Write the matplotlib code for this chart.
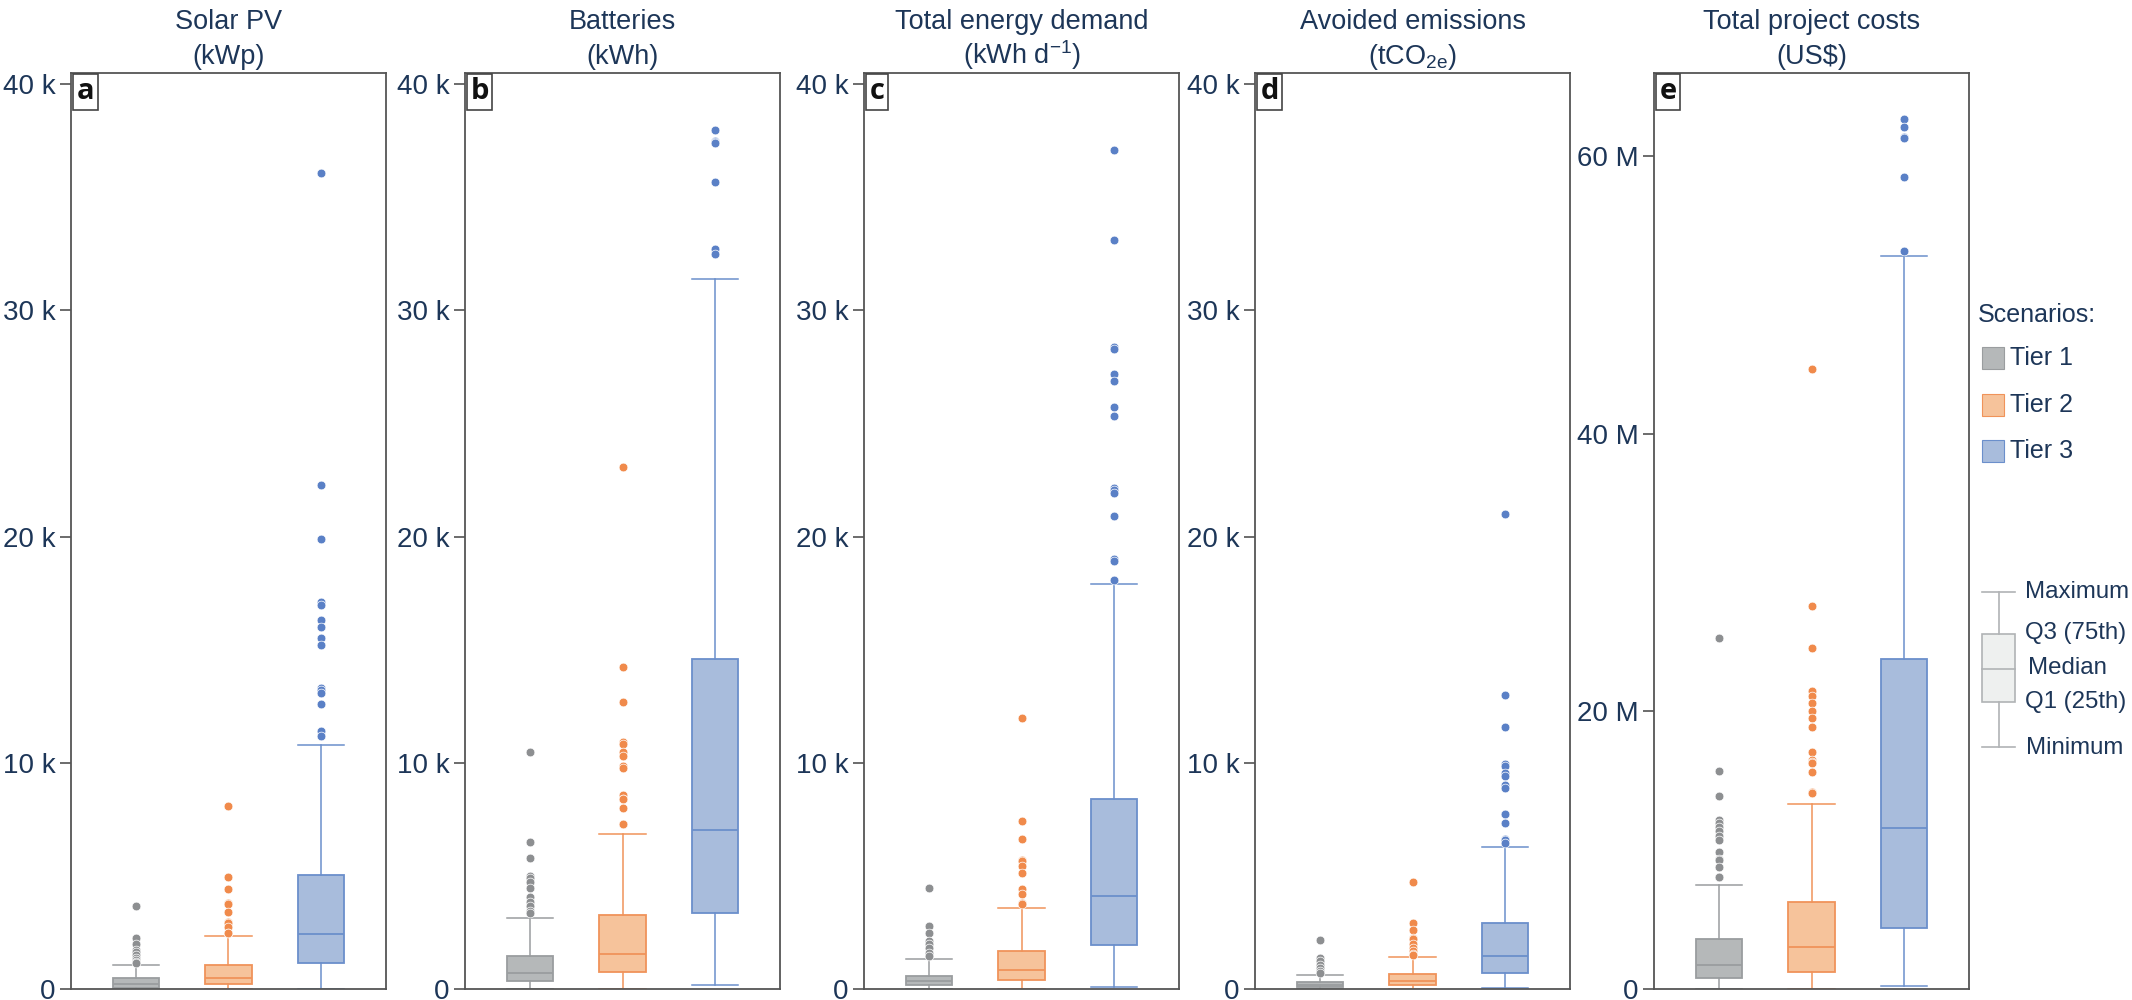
import matplotlib
matplotlib.use("Agg")
import matplotlib.pyplot as plt
from matplotlib.patches import Rectangle
from matplotlib.ticker import FuncFormatter

plt.rcParams['font.family'] = ['Liberation Sans', 'DejaVu Sans']
plt.rcParams['mathtext.fontset'] = 'custom'
plt.rcParams['mathtext.rm'] = 'Liberation Sans'
plt.rcParams['mathtext.it'] = 'Liberation Sans:italic'

# scenarios
tiers = ['Tier 1', 'Tier 2', 'Tier 3']
fill_colors = ['#b5b8b9', '#f6c39b', '#a8bcdc']
edge_colors = ['#9a9d9f', '#f0935a', '#6b8fcb']
flier_colors = ['#8d8f91', '#f08a4b', '#5a80c6']

# a - solar PV (thousand kWp)
pv_q1 = [0.06, 0.21, 1.13]
pv_med = [0.21, 0.49, 2.45]
pv_q3 = [0.47, 1.07, 5.02]
pv_lo = [0, 0, 0]
pv_hi = [1.04, 2.36, 10.8]
pv_fliers = [
    [3.66, 2.25, 1.99, 1.73, 1.65, 1.52, 1.36, 1.28, 1.19, 1.13],
    [8.07, 4.97, 4.41, 3.80, 3.77, 3.42, 2.98, 2.90, 2.76, 2.49, 2.47],
    [36.1, 22.3, 19.9, 17.1, 17.0, 16.3, 16.0, 15.5, 15.2, 13.3, 13.2, 13.1, 12.6, 11.4, 11.2],
]

# b - batteries (thousand kWh)
bat_q1 = [0.34, 0.74, 3.36]
bat_med = [0.72, 1.56, 7.05]
bat_q3 = [1.48, 3.26, 14.6]
bat_lo = [0, 0, 0.16]
bat_hi = [3.13, 6.86, 31.4]
bat_fliers = [
    [10.5, 6.52, 5.80, 4.98, 4.92, 4.72, 4.48, 4.05, 3.84, 3.66, 3.44, 3.36],
    [23.1, 14.25, 12.7, 10.9, 10.85, 10.5, 10.3, 9.88, 9.75, 8.58, 8.42, 8.40, 8.0, 7.31, 7.28],
    [38.0, 37.5, 37.45, 37.4, 35.7, 32.7, 32.5],
]

# c - total energy demand (thousand kWh per day)
dem_q1 = [0.16, 0.42, 1.96]
dem_med = [0.34, 0.82, 4.13]
dem_q3 = [0.58, 1.67, 8.40]
dem_lo = [0, 0, 0.08]
dem_hi = [1.32, 3.58, 17.9]
dem_fliers = [
    [4.48, 2.78, 2.49, 2.12, 1.99, 1.80, 1.59, 1.46],
    [12.0, 7.44, 6.62, 5.70, 5.66, 5.43, 5.14, 4.40, 4.21, 3.79, 3.75],
    [37.1, 33.1, 28.4, 28.3, 27.2, 26.9, 25.75, 25.35, 22.15, 22.05, 21.95, 20.9, 18.99, 18.91, 18.1],
]

# d - avoided emissions (thousand tCO2e)
emi_q1 = [0.08, 0.16, 0.69]
emi_med = [0.19, 0.37, 1.48]
emi_q3 = [0.32, 0.66, 2.94]
emi_lo = [0, 0, 0.05]
emi_hi = [0.61, 1.40, 6.28]
emi_fliers = [
    [2.17, 1.35, 1.25, 1.06, 0.93, 0.79, 0.72],
    [4.74, 2.91, 2.62, 2.25, 2.20, 2.01, 1.83, 1.70, 1.54, 1.52],
    [21.0, 13.0, 11.6, 9.93, 9.88, 9.54, 9.43, 9.03, 8.87, 7.74, 7.72, 7.34, 6.62, 6.60, 6.44],
]

# e - total project costs (million US$)
cost_q1 = [0.78, 1.21, 4.36]
cost_med = [1.73, 3.06, 11.6]
cost_q3 = [3.58, 6.26, 23.8]
cost_lo = [0, 0, 0.22]
cost_hi = [7.51, 13.3, 52.8]
cost_fliers = [
    [25.3, 15.7, 13.9, 12.2, 11.96, 11.65, 11.35, 11.05, 10.7, 9.84, 9.37, 9.28, 8.8, 8.07, 8.05],
    [44.7, 27.6, 24.6, 21.5, 21.1, 20.6, 20.0, 19.5, 18.9, 17.05, 16.5, 16.36, 16.3, 15.6, 14.2, 14.1],
    [62.7, 62.1, 61.4, 61.35, 58.5, 53.2],
]

titles = ['Solar PV', 'Batteries', 'Total energy demand', 'Avoided emissions', 'Total project costs']
units = ['(kWp)', '(kWh)', '(kWh d$^{-1}$)', '(tCO$_{\\mathrm{2e}}$)', '(US\\$)']
letters = ['a', 'b', 'c', 'd', 'e']

panels = [
    (pv_q1, pv_med, pv_q3, pv_lo, pv_hi, pv_fliers, 1e3),
    (bat_q1, bat_med, bat_q3, bat_lo, bat_hi, bat_fliers, 1e3),
    (dem_q1, dem_med, dem_q3, dem_lo, dem_hi, dem_fliers, 1e3),
    (emi_q1, emi_med, emi_q3, emi_lo, emi_hi, emi_fliers, 1e3),
    (cost_q1, cost_med, cost_q3, cost_lo, cost_hi, cost_fliers, 1e6),
]

text_col = '#1d3658'
W, H = 2132, 1000
lefts = [71, 465, 864, 1255, 1654]
ax_w, ax_top, ax_bot = 315, 73, 989

fig = plt.figure(figsize=(W / 100, H / 100), dpi=100)

for i, (q1, med, q3, lo, hi, fl, scale) in enumerate(panels):
    ax = fig.add_axes([lefts[i] / W, 1 - ax_bot / H, ax_w / W, (ax_bot - ax_top) / H])
    for j in range(3):
        st = [dict(q1=q1[j] * scale, med=med[j] * scale, q3=q3[j] * scale,
                   whislo=lo[j] * scale, whishi=hi[j] * scale,
                   fliers=[v * scale for v in fl[j]])]
        ax.bxp(st, positions=[j + 1], widths=0.5, capwidths=0.5, patch_artist=True,
               boxprops=dict(facecolor=fill_colors[j], edgecolor=edge_colors[j], linewidth=1.3),
               medianprops=dict(color=edge_colors[j], linewidth=1.3),
               whiskerprops=dict(color=edge_colors[j], linewidth=1.1),
               capprops=dict(color=edge_colors[j], linewidth=1.1),
               flierprops=dict(marker='o', markerfacecolor=flier_colors[j],
                               markeredgecolor='white', markeredgewidth=0.5,
                               markersize=6.3, linestyle='none'))
    ax.set_xlim(0.29, 3.71)
    ax.set_xticks([])
    if scale == 1e6:
        ax.set_ylim(0, 66e6)
        ax.set_yticks([0, 20e6, 40e6, 60e6])
        ax.yaxis.set_major_formatter(FuncFormatter(lambda v, p: '0' if v == 0 else f'{v / 1e6:.0f} M'))
    else:
        ax.set_ylim(0, 40500)
        ax.set_yticks([0, 10e3, 20e3, 30e3, 40e3])
        ax.yaxis.set_major_formatter(FuncFormatter(lambda v, p: '0' if v == 0 else f'{v / 1e3:.0f} k'))
    ax.tick_params(axis='y', length=8, width=1.1, color='#444444', labelcolor=text_col,
                   labelsize=20, pad=3)
    for sp in ax.spines.values():
        sp.set_color('#555555')
        sp.set_linewidth(1.3)
    # two-line title: name and unit
    ax.annotate(titles[i], xy=(0.5, 1), xycoords='axes fraction', xytext=(0, 44),
                textcoords='offset pixels', ha='center', va='baseline',
                fontsize=19.5, color=text_col)
    ax.annotate(units[i], xy=(0.5, 1), xycoords='axes fraction', xytext=(0, 9),
                textcoords='offset pixels', ha='center', va='baseline',
                fontsize=19.5, color=text_col)
    ax.annotate(letters[i], xy=(0, 1), xycoords='axes fraction', xytext=(4, -3),
                textcoords='offset points', ha='left', va='top', fontsize=21,
                fontweight='bold', color='#111111', family=['Open Sans', 'DejaVu Sans'],
                bbox=dict(boxstyle='square,pad=0.12', facecolor='white', edgecolor='#444444', lw=1.2))

# legend drawn on an overlay in pixel units
lg = fig.add_axes([0, 0, 1, 1])
lg.set_xlim(0, W)
lg.set_ylim(H, 0)
lg.axis('off')
lg.text(1978, 315, 'Scenarios:', fontsize=18, color=text_col, va='center', ha='left')
for j, t in enumerate(tiers):
    y = 358 + j * 46.5
    lg.add_patch(Rectangle((1982, y - 11), 22, 22, facecolor=fill_colors[j],
                           edgecolor=edge_colors[j], lw=0.8))
    lg.text(2010, y, t, fontsize=18, color=text_col, va='center', ha='left')

# box explanation
ex_col = '#b0b3b5'
lg.plot([1998.5, 1998.5], [592, 634], color=ex_col, lw=1.2)
lg.plot([1998.5, 1998.5], [702, 747], color=ex_col, lw=1.2)
lg.plot([1982, 2015], [592, 592], color=ex_col, lw=1.2)
lg.plot([1982, 2015], [747, 747], color=ex_col, lw=1.2)
lg.add_patch(Rectangle((1982, 634), 33, 68, facecolor='#eef0ef', edgecolor=ex_col, lw=1.2))
lg.plot([1982, 2015], [669, 669], color=ex_col, lw=1.2)
for lab, y, x in [('Maximum', 592, 2025), ('Q3 (75th)', 633, 2025), ('Median', 668, 2028),
                  ('Q1 (25th)', 702, 2025), ('Minimum', 748, 2026)]:
    lg.text(x, y, lab, fontsize=17.3, color=text_col, va='center', ha='left')

fig.savefig('out.png', dpi=100)
